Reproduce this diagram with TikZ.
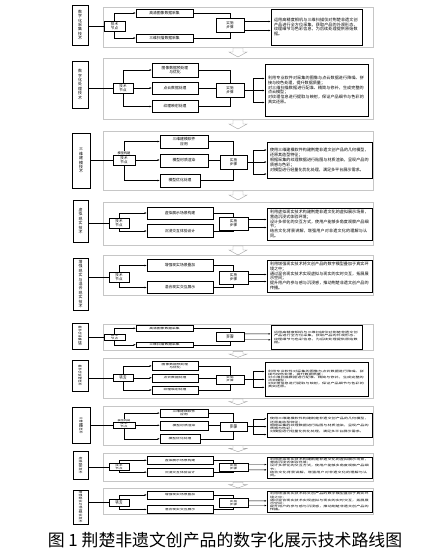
\documentclass[tikz,border=0pt]{standalone}
\usepackage{fontspec}
\setmainfont{Noto Sans CJK SC}
\XeTeXlinebreaklocale "zh"
\XeTeXlinebreakskip=0pt plus 1pt
\usetikzlibrary{arrows.meta,positioning,calc}

\tikzset{
  frame/.style={draw=gray!45,line width=0.7pt},
  wh/.style 2 args={minimum width=#1*0.05cm,minimum height=#2*0.05cm},
  catbox/.style={draw,line width=0.8pt,inner sep=0pt,align=center,font=\fontsize{5.6}{6.3}\selectfont},
  hubbox/.style={draw,line width=0.5pt,inner sep=0pt,align=center,font=\fontsize{5}{5.8}\selectfont},
  tagbox/.style={inner sep=0.3pt,font=\fontsize{4.6}{5}\selectfont},
  mbox/.style={draw,line width=0.6pt,inner sep=0pt,align=center,font=\fontsize{5.4}{6.4}\selectfont},
  stepbox/.style={draw,line width=0.6pt,inner sep=0pt,align=center,font=\fontsize{5}{6}\selectfont},
  notebox/.style={draw,line width=0.9pt,inner sep=1.5pt,align=left,text width=#1,font=\fontsize{5.8}{6.8}\selectfont},
  link/.style={line width=0.5pt},
  arr/.style={link,-{Latex[length=3pt,width=2.4pt]}},
  downarr/.style={draw=gray!70,line width=0.6pt,fill=white}
}

% one full copy of the route map
\newcommand{\routeplan}{%
  % background frames
  \draw[frame] (103,7) rectangle (373,47);
  \draw[frame] (103,58) rectangle (373,119);
  \draw[frame] (103,131) rectangle (373,190);
  \draw[frame] (103,202) rectangle (373,245);
  \draw[frame] (103,255) rectangle (373,295);
  \foreach \y in {48,120,191,246}
    \draw[downarr] (233,\y) -- (243,\y) -- (243,\y+4) -- (247,\y+4) -- (238,\y+9) -- (229,\y+4) -- (233,\y+4) -- cycle;

  % block 1
  \node[catbox,wh={16}{40}] (cat1) at (80,25) {数\\字\\化\\采\\集\\技\\术};
  \node[hubbox,wh={21}{10}] (hub1) at (114.5,26.5) {技术\\节点};
  \node[mbox,wh={57}{8}] (m1a) at (164.5,13) {高清图像数据采集};
  \node[mbox,wh={57}{8}] (m1b) at (164.5,38) {三维扫描数据采集};
  \node[stepbox,wh={28}{14}] (step1) at (230,25.5) {实施\\步骤};
  \node[notebox=4.25cm,wh={91}{36}] (note1) at (316.5,27) {运用高精度相机与三维扫描仪对荆楚非遗文创产品进行全方位采集，获取产品的外观形态、纹理细节与色彩信息，为后续处理提供原始数据。};
  \draw[link] (cat1.east |- hub1.west) -- (hub1.west);
  \draw[arr] (hub1.north) |- (m1a.west);
  \draw[arr] (hub1.south) |- (m1b.west);
  \draw[link] (m1a.east) -| (step1.north);
  \draw[link] (m1b.east) -| (step1.south);
  \draw[arr] ($(step1.east)+(0,-4)$) coordinate (o1a) -- (o1a -| note1.west);
  \draw[arr] ($(step1.east)+(0,5)$) coordinate (o1b) -- (o1b -| note1.west);

  % block 2
  \node[catbox,wh={16}{47}] (cat2) at (80,84.5) {数\\字\\化\\处\\理\\技\\术};
  \node[hubbox,wh={20}{10}] (hub2) at (123,88) {技术\\节点};
  \node[mbox,wh={46}{14}] (m2a) at (175,70) {图像数据预处理\\与优化};
  \node[mbox,wh={46}{12}] (m2b) at (175,88) {点云数据处理};
  \node[mbox,wh={46}{12}] (m2c) at (175,106.5) {纹理映射处理};
  \node[stepbox,wh={28}{14}] (step2) at (230,90.5) {实施\\步骤};
  \node[notebox=4.85cm,wh={103}{52}] (note2) at (316.5,90) {利用专业软件对采集的图像与点云数据进行降噪、拼接与校色处理，提升数据质量；\\对三维扫描数据进行配准、精简与修补，生成完整的点云模型；\\对纹理信息进行提取与映射，保证产品细节与色彩的真实还原。};
  \draw[link] (cat2.east |- hub2.west) -- (hub2.west);
  \draw[arr] (hub2.north) |- (m2a.west);
  \draw[arr] (hub2.east) -- (m2b.west);
  \draw[arr] (hub2.south) |- (m2c.west);
  \draw[link] (m2a.east) -| (step2.north);
  \draw[link] (m2b.east) -- (m2b.east -| step2.west);
  \draw[link] (m2c.east) -| (step2.south);
  \draw[link] (step2.east) -- ++(9,0) coordinate (fan2);
  \foreach \d in {-12,0,12}
    \draw[arr] (fan2) |- ($(fan2 -| note2.west)+(0,\d)$);

  % block 3
  \node[catbox,wh={18}{55}] (cat3) at (81,160.5) {三\\维\\建\\模\\技\\术};
  \node[hubbox,wh={22}{10}] (hub3) at (124,160) {技术\\节点};
  \node[tagbox,above=0pt of hub3] (tag3) {模型构建};
  \node[mbox,wh={48}{13}] (m3a) at (184,141.5) {三维建模软件\\应用};
  \node[mbox,wh={48}{13}] (m3b) at (184,160.5) {模型材质渲染};
  \node[mbox,wh={40}{13}] (m3c) at (180,180.5) {模型优化处理};
  \node[stepbox,wh={27}{14}] (step3) at (233.5,162) {实施\\步骤};
  \node[notebox=4.95cm,wh={105}{36}] (note3) at (319.5,160) {使用三维建模软件构建荆楚非遗文创产品的几何模型，还原其造型特征；\\根据采集的纹理数据进行贴图与材质渲染，呈现产品的质感与色彩；\\对模型进行轻量化优化处理，满足多平台展示需求。};
  \draw[link] (cat3.east |- hub3.west) -- (hub3.west);
  \draw[arr] (tag3.north) |- (m3a.west);
  \draw[arr] (hub3.east) -- (hub3.east -| m3b.west);
  \draw[arr] (hub3.south) |- (m3c.west);
  \draw[link] (m3a.east) -| (step3.north);
  \draw[link] (m3b.east) -- (m3b.east -| step3.west);
  \draw[link] (m3c.east) -| (step3.south);
  \draw[link] (step3.east) -- ++(6,0) coordinate (fan3);
  \foreach \d in {-12,0,12}
    \draw[arr] (fan3) |- ($(fan3 -| note3.west)+(0,\d)$);

  % block 4
  \node[catbox,wh={15}{42}] (cat4) at (80.5,221) {虚\\拟\\现\\实\\技\\术};
  \node[hubbox,wh={20}{10}] (hub4) at (119,223) {技术\\节点};
  \node[mbox,wh={66}{12}] (m4a) at (180,213) {虚拟展示场景构建};
  \node[mbox,wh={66}{13}] (m4b) at (180,231) {沉浸交互体验设计};
  \node[stepbox,wh={29}{13}] (step4) at (233.5,223.5) {实施\\步骤};
  \node[notebox=4.95cm,wh={105}{32}] (note4) at (319.5,224) {利用虚拟现实技术构建荆楚非遗文化的虚拟展示场景，营造沉浸式体验环境；\\设计多样化的交互方式，使用户能够多角度观察产品细节；\\结合文化背景讲解，增强用户对非遗文化的理解与认同。};
  \draw[link] (cat4.east |- hub4.west) -- (hub4.west);
  \draw[arr] (hub4.north) |- (m4a.west);
  \draw[arr] (hub4.south) |- (m4b.west);
  \draw[link] (m4a.east) -| (step4.north);
  \draw[link] (m4b.east) -| (step4.south);
  \draw[arr] ($(step4.east)+(0,-4)$) coordinate (o4a) -- (o4a -| note4.west);
  \draw[arr] ($(step4.east)+(0,4)$) coordinate (o4b) -- (o4b -| note4.west);

  % block 5
  \node[catbox,wh={15}{52}] (cat5) at (80.5,284) {增\\强\\现\\实\\与\\混\\合\\现\\实\\技\\术};
  \node[hubbox,wh={20}{10}] (hub5) at (119,277) {技术\\节点};
  \node[mbox,wh={66}{12}] (m5a) at (180,265.5) {增强现实场景叠加};
  \node[mbox,wh={66}{12}] (m5b) at (180,287.5) {混合现实交互展示};
  \node[stepbox,wh={29}{13}] (step5) at (233.5,277.5) {实施\\步骤};
  \node[notebox=4.95cm,wh={105}{32}] (note5) at (319.5,276) {利用增强现实技术将文创产品的数字模型叠加于真实环境之中；\\通过混合现实技术实现虚拟与现实的实时交互，拓展展示空间；\\提升用户的参与感与沉浸感，推动荆楚非遗文创产品的传播。};
  \draw[link] (cat5.east |- hub5.west) -- (hub5.west);
  \draw[arr] (hub5.north) |- (m5a.west);
  \draw[arr] (hub5.south) |- (m5b.west);
  \draw[link] (m5a.east) -| (step5.north);
  \draw[link] (m5b.east) -| (step5.south);
  \draw[arr] ($(step5.east)+(0,-3)$) coordinate (o5a) -- (o5a -| note5.west);
  \draw[arr] ($(step5.east)+(0,4)$) coordinate (o5b) -- (o5b -| note5.west);
}

\begin{document}
\begin{tikzpicture}[x=0.05cm,y=-0.05cm]
  \useasboundingbox (0,0) rectangle (446,560);

  \begin{scope}[name prefix=up-]
    \routeplan
  \end{scope}

  % smaller repeat of the same map
  \begin{scope}[name prefix=lo-,yshift=-15.985cm,yscale=0.66,transform shape]
    \routeplan
  \end{scope}

  \node (caption) at (225,540) {\fontsize{24}{24}\selectfont 图 1 荆楚非遗文创产品的数字化展示技术路线图};
\end{tikzpicture}
\end{document}
